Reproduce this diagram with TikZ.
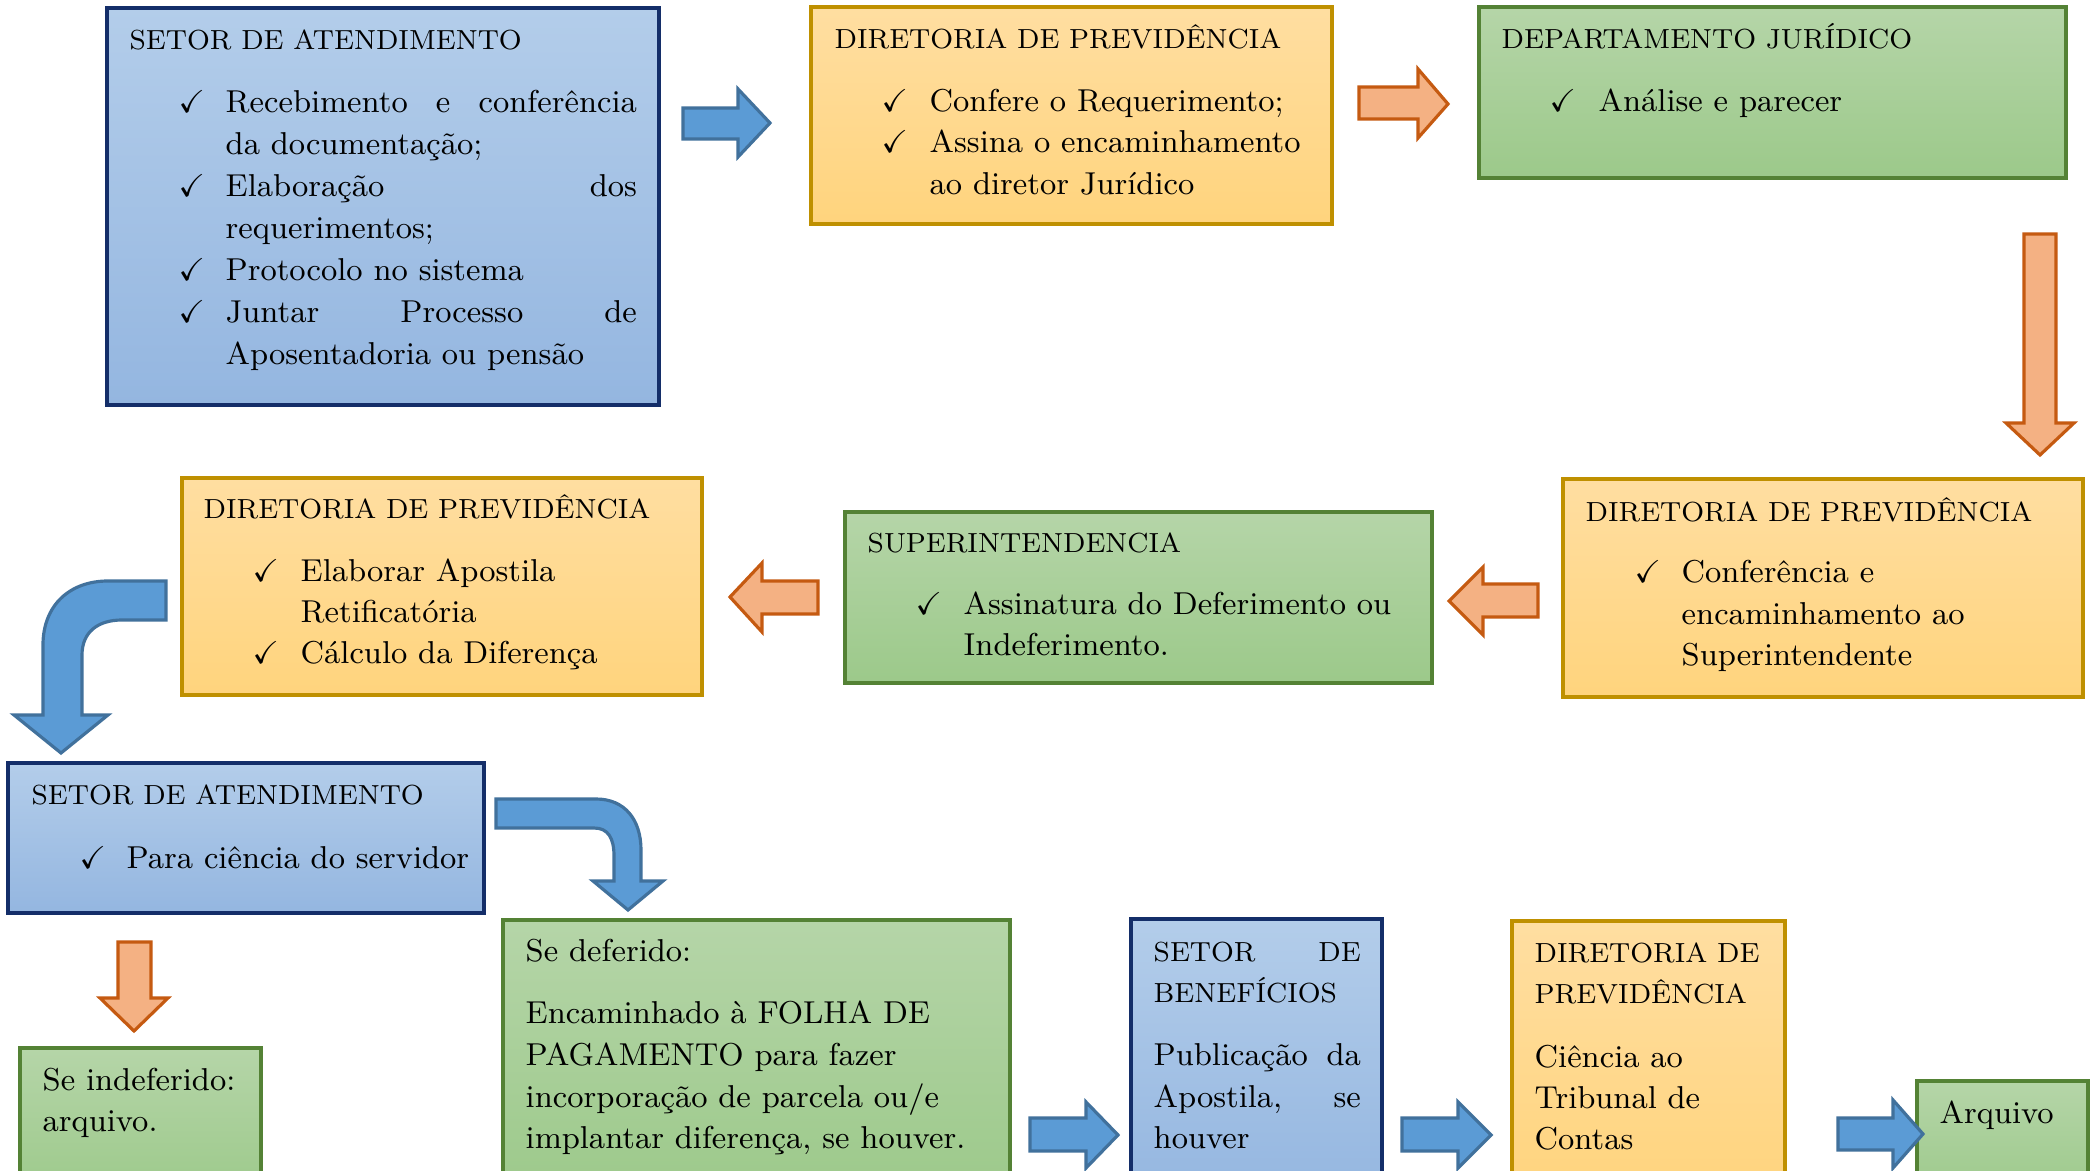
\documentclass[tikz,border=0pt]{standalone}
\usepackage{amssymb}
\usetikzlibrary{fit}

% panel colours
\definecolor{blueTop}{HTML}{B3CDEA}
\definecolor{blueBot}{HTML}{94B6E0}
\definecolor{blueEdge}{HTML}{142E69}
\definecolor{orgTop}{HTML}{FFDEA1}
\definecolor{orgBot}{HTML}{FFD47D}
\definecolor{orgEdge}{HTML}{BF9000}
\definecolor{grnTop}{HTML}{B5D5A8}
\definecolor{grnBot}{HTML}{9CC98A}
\definecolor{grnEdge}{HTML}{548235}
% block arrow colours
\definecolor{arrOrgFill}{HTML}{F4B183}
\definecolor{arrOrgEdge}{HTML}{C55A11}
\definecolor{arrBlueFill}{HTML}{5B9BD5}
\definecolor{arrBlueEdge}{HTML}{41719C}

\newcommand\hdrfont{\fontsize{7.85}{11.8}\selectfont}
\newcommand\txtfont{\fontsize{9.0}{11.8}\selectfont}

\tikzset{
  panel/.style={rectangle, inner sep=0pt, line width=1.2pt},
  bluepanel/.style={panel, draw=blueEdge, top color=blueTop, bottom color=blueBot},
  orangepanel/.style={panel, draw=orgEdge, top color=orgTop, bottom color=orgBot},
  greenpanel/.style={panel, draw=grnEdge, top color=grnTop, bottom color=grnBot},
  hdr/.style={inner sep=0pt, anchor=base west, font=\hdrfont},
  txt/.style={inner sep=0pt, anchor=base west, font=\txtfont},
  tick/.style={inner sep=0pt, anchor=base west, font=\fontsize{9}{10}\selectfont},
  orangearrow/.style={draw=arrOrgEdge, fill=arrOrgFill, line width=0.9pt},
  bluearrow/.style={draw=arrBlueEdge, fill=arrBlueFill, line width=0.9pt},
}

\begin{document}
\begin{tikzpicture}[x=0.01cm, y=-0.01cm]
\useasboundingbox (0,0) rectangle (2092,1171);
\fill[white] (0,0) rectangle (2092,1171);
\clip (0,0) rectangle (2092,1171);

% ---------- panels ----------
\node[bluepanel,   fit={(107,8) (659,405)}]    (setorA) {};
\node[orangepanel, fit={(811,7) (1332,224)}]   (dirA) {};
\node[greenpanel,  fit={(1479,7) (2066,178)}]  (jur) {};
\node[orangepanel, fit={(1563,479) (2083,697)}] (dirB) {};
\node[greenpanel,  fit={(845,512) (1432,683)}] (sup) {};
\node[orangepanel, fit={(182,478) (702,695)}]  (dirC) {};
\node[bluepanel,   fit={(8,763) (484,913)}]    (setorB) {};
\node[greenpanel,  fit={(20,1048) (261,1200)}] (indef) {};
\node[greenpanel,  fit={(503,920) (1010,1200)}] (def) {};
\node[bluepanel,   fit={(1131,919) (1382,1200)}] (benef) {};
\node[orangepanel, fit={(1512,921) (1785,1200)}] (dirD) {};
\node[greenpanel,  fit={(1917,1081) (2088,1200)}] (arq) {};

% ---------- SETOR DE ATENDIMENTO (top) ----------
\node[hdr] (setorA-t) at (129,50) {SETOR DE ATENDIMENTO};
\node[tick] (setorA-c1) at (178,113) {$\checkmark$};
\node[txt] (setorA-l1) at (225,113) {\makebox[4.11cm]{Recebimento\hfill e\hfill conferência}};
\node[txt] (setorA-l2) at (225,155) {da documentação;};
\node[tick] (setorA-c2) at (178,197) {$\checkmark$};
\node[txt] (setorA-l3) at (225,197) {\makebox[4.11cm]{Elaboração\hfill dos}};
\node[txt] (setorA-l4) at (225,239) {requerimentos;};
\node[tick] (setorA-c3) at (178,281) {$\checkmark$};
\node[txt] (setorA-l5) at (225,281) {Protocolo no sistema};
\node[tick] (setorA-c4) at (178,323) {$\checkmark$};
\node[txt] (setorA-l6) at (225,323) {\makebox[4.11cm]{Juntar\hfill Processo\hfill de}};
\node[txt] (setorA-l7) at (225,365) {Aposentadoria ou pensão};

% ---------- DIRETORIA DE PREVIDÊNCIA (top) ----------
\node[hdr] (dirA-t) at (834,49) {DIRETORIA DE PREVIDÊNCIA};
\node[tick] (dirA-c1) at (881,112) {$\checkmark$};
\node[txt] (dirA-l1) at (929,112) {Confere o Requerimento;};
\node[tick] (dirA-c2) at (881,153) {$\checkmark$};
\node[txt] (dirA-l2) at (929,153) {Assina o encaminhamento};
\node[txt] (dirA-l3) at (929,195) {ao diretor Jurídico};

% ---------- DEPARTAMENTO JURÍDICO ----------
\node[hdr] (jur-t) at (1501,49) {DEPARTAMENTO JURÍDICO};
\node[tick] (jur-c1) at (1549,112) {$\checkmark$};
\node[txt] (jur-l1) at (1598,112) {Análise e parecer};

% ---------- DIRETORIA DE PREVIDÊNCIA (right) ----------
\node[hdr] (dirB-t) at (1585,522) {DIRETORIA DE PREVIDÊNCIA};
\node[tick] (dirB-c1) at (1634,583) {$\checkmark$};
\node[txt] (dirB-l1) at (1681,583) {Conferência e};
\node[txt] (dirB-l2) at (1681,625) {encaminhamento ao};
\node[txt] (dirB-l3) at (1681,666) {Superintendente};

% ---------- SUPERINTENDENCIA ----------
\node[hdr] (sup-t) at (867,553) {SUPERINTENDENCIA};
\node[tick] (sup-c1) at (915,615) {$\checkmark$};
\node[txt] (sup-l1) at (963,615) {Assinatura do Deferimento ou};
\node[txt] (sup-l2) at (963,656) {Indeferimento.};

% ---------- DIRETORIA DE PREVIDÊNCIA (left) ----------
\node[hdr] (dirC-t) at (203,519) {DIRETORIA DE PREVIDÊNCIA};
\node[tick] (dirC-c1) at (252,582) {$\checkmark$};
\node[txt] (dirC-l1) at (300,582) {Elaborar Apostila};
\node[txt] (dirC-l2) at (300,623) {Retificatória};
\node[tick] (dirC-c2) at (252,664) {$\checkmark$};
\node[txt] (dirC-l3) at (300,664) {Cálculo da Diferença};

% ---------- SETOR DE ATENDIMENTO (lower) ----------
\node[hdr] (setorB-t) at (31,805) {SETOR DE ATENDIMENTO};
\node[tick] (setorB-c1) at (79,868) {$\checkmark$};
\node[txt] (setorB-l1) at (126,868) {Para ciência do servidor};

% ---------- Se indeferido ----------
\node[txt] (indef-l1) at (42,1090) {Se indeferido:};
\node[txt] (indef-l2) at (42,1131) {arquivo.};

% ---------- Se deferido ----------
\node[txt] (def-l1) at (525,961) {Se deferido:};
\node[txt] (def-l2) at (525,1023) {Encaminhado à FOLHA DE};
\node[txt] (def-l3) at (525,1065) {PAGAMENTO para fazer};
\node[txt] (def-l4) at (525,1107) {incorporação de parcela ou/e};
\node[txt] (def-l5) at (525,1148) {implantar diferença, se houver.};

% ---------- SETOR DE BENEFÍCIOS ----------
\node[hdr] (benef-t1) at (1153,961) {\makebox[2.07cm]{SETOR\hfill DE}};
\node[hdr] (benef-t2) at (1153,1002) {BENEFÍCIOS};
\node[txt] (benef-l1) at (1153,1065) {\makebox[2.07cm]{Publicação\hfill da}};
\node[txt] (benef-l2) at (1153,1107) {\makebox[2.07cm]{Apostila,\hfill se}};
\node[txt] (benef-l3) at (1153,1148) {houver};

% ---------- DIRETORIA DE PREVIDÊNCIA (bottom) ----------
\node[hdr] (dirD-t1) at (1534,962) {DIRETORIA DE};
\node[hdr] (dirD-t2) at (1534,1003) {PREVIDÊNCIA};
\node[txt] (dirD-l1) at (1534,1067) {Ciência ao};
\node[txt] (dirD-l2) at (1534,1108) {Tribunal de};
\node[txt] (dirD-l3) at (1534,1149) {Contas};

% ---------- Arquivo ----------
\node[txt] (arq-l1) at (1939,1123) {Arquivo};

% ---------- block arrows ----------
% setorA -> dirA
\draw[bluearrow] (683,108) -- (738,108) -- (738,89) -- (770,123) -- (738,157) -- (738,139) -- (683,139) -- cycle;
% dirA -> jur
\draw[orangearrow] (1359,87) -- (1418,87) -- (1418,69) -- (1448,104) -- (1418,138) -- (1418,119) -- (1359,119) -- cycle;
% jur -> dirB
\draw[orangearrow] (2024,234) -- (2056,234) -- (2056,423) -- (2074,423) -- (2040,455) -- (2006,423) -- (2024,423) -- cycle;
% dirB -> sup
\draw[orangearrow] (1538,584) -- (1483,584) -- (1483,567) -- (1449,601) -- (1483,635) -- (1483,617) -- (1538,617) -- cycle;
% sup -> dirC
\draw[orangearrow] (818,581) -- (762,581) -- (762,563) -- (730,597) -- (762,632) -- (762,614) -- (818,614) -- cycle;
% dirC -> setorB (bent)
\draw[bluearrow] (166,581) -- (108,581) .. controls (70,581) and (43,605) .. (43,645)
  -- (43,715) -- (14,715) -- (61,753) -- (108,715) -- (82,715) -- (82,655)
  .. controls (82,632) and (98,620) .. (122,620) -- (166,620) -- cycle;
% setorB -> def (bent)
\draw[bluearrow] (496,799) -- (596,799) .. controls (625,799) and (641,820) .. (641,850)
  -- (641,881) -- (663,881) -- (628,910) -- (593,881) -- (614,881) -- (614,856)
  .. controls (614,838) and (608,828) .. (594,828) -- (496,828) -- cycle;
% setorB -> indef
\draw[orangearrow] (118,942) -- (151,942) -- (151,998) -- (168,998) -- (134,1031) -- (100,998) -- (118,998) -- cycle;
% def -> benef
\draw[bluearrow] (1030,1118) -- (1086,1118) -- (1086,1102) -- (1118,1135) -- (1086,1168) -- (1086,1151) -- (1030,1151) -- cycle;
% benef -> dirD
\draw[bluearrow] (1402,1118) -- (1458,1118) -- (1458,1102) -- (1491,1135) -- (1458,1168) -- (1458,1151) -- (1402,1151) -- cycle;
% dirD -> arq
\draw[bluearrow] (1838,1118) -- (1893,1118) -- (1893,1100) -- (1923,1134) -- (1893,1168) -- (1893,1150) -- (1838,1150) -- cycle;
\end{tikzpicture}
\end{document}
